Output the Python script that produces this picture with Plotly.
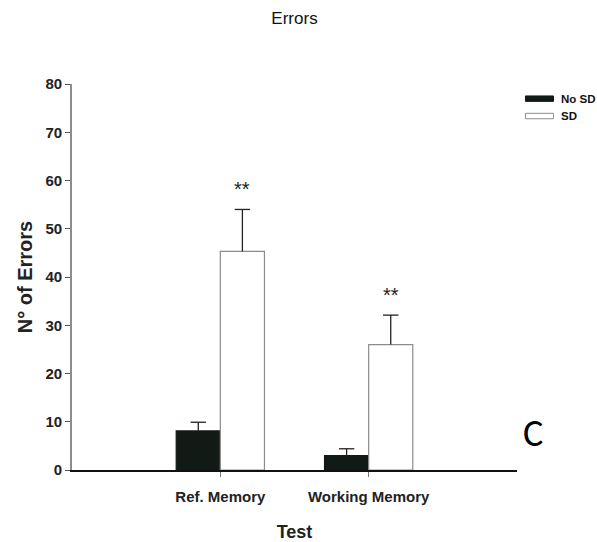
import plotly.graph_objects as go

# Mean number of errors per test, with upper SEM bars
tests = ["Ref. Memory", "Working Memory"]
no_sd_mean = [8.1, 3.0]
no_sd_err = [1.8, 1.4]
sd_mean = [45.3, 26.0]
sd_err = [8.7, 6.1]
sig_marks = ["**", "**"]

series_names = ["No SD", "SD"]
fill_colors = ["#111a14", "#ffffff"]
edge_colors = ["#111a14", "#8c8c8c"]

FONT = "Liberation Sans, Arial, sans-serif"
BARGAP = 0.405
bar_w = (1 - BARGAP) / 2
pos = list(range(len(tests)))

fig = go.Figure()
for k, (name, mean, err, fill, edge) in enumerate(zip(
        series_names, [no_sd_mean, sd_mean], [no_sd_err, sd_err],
        fill_colors, edge_colors)):
    fig.add_trace(go.Bar(
        x=pos, y=mean, name=name,
        marker=dict(color=fill, line=dict(color=edge, width=1.2)),
        showlegend=False,
    ))
    # upper-only error bar: stem from the bar top, single cap at mean + err
    xs = [p + (k - 0.5) * bar_w for p in pos]
    tops = [m + e for m, e in zip(mean, err)]
    fig.add_trace(go.Scatter(
        x=xs, y=tops, mode="markers", showlegend=False, hoverinfo="skip",
        marker=dict(symbol="line-ew", size=11, color="#222",
                    line=dict(color="#222", width=1.3)),
        error_y=dict(type="data", symmetric=False, array=[0] * len(err),
                     arrayminus=err, color="#222", thickness=1.3, width=0),
    ))

# Significance stars above the SD bars
for p, m, e, s in zip(pos, sd_mean, sd_err, sig_marks):
    fig.add_annotation(x=p + bar_w / 2, y=m + e, text=s, showarrow=False,
                       xref="x", yref="y", yanchor="bottom", yshift=7,
                       font=dict(family=FONT, size=20, color="#222"))

# Legend drawn as swatches with labels
legend_y = [0.962, 0.917]
for name, fill, edge, ly in zip(series_names, fill_colors, edge_colors, legend_y):
    fig.add_shape(type="rect", xref="paper", yref="paper",
                  x0=1.019, x1=1.082, y0=ly - 0.007, y1=ly + 0.007,
                  fillcolor=fill, line=dict(color=edge, width=1))
    fig.add_annotation(xref="paper", yref="paper", x=1.094, y=ly,
                       text="<b>%s</b>" % name,
                       showarrow=False, xanchor="left", yanchor="middle",
                       font=dict(family=FONT, size=11.5, color="#111"))

# Panel letter
fig.add_annotation(xref="paper", yref="paper", x=1.035, y=0.095, text="C",
                   showarrow=False, xanchor="center", yanchor="middle",
                   font=dict(family="Carlito, Open Sans, sans-serif", size=38, color="#000"))

fig.update_layout(
    width=597, height=542,
    margin=dict(l=72, r=80, t=84, b=72),
    paper_bgcolor="white", plot_bgcolor="white",
    barmode="group", bargap=BARGAP, bargroupgap=0,
    title=dict(text="Errors", x=0.5, xref="paper", y=1 - 18 / 542, yanchor="middle",
               font=dict(family=FONT, size=17, color="#111")),
    xaxis=dict(
        range=[-1, 2], tickvals=pos, ticktext=["<b>%s</b>" % t for t in tests],
        showline=True, linecolor="#111", linewidth=1.6,
        ticks="outside", ticklen=5, tickcolor="#777", tickwidth=1,
        ticklabelstandoff=7, automargin=False,
        showgrid=False, zeroline=False,
        tickfont=dict(family=FONT, size=15, color="#222"),
        title=dict(text="<b>Test</b>", standoff=22,
                   font=dict(family=FONT, size=18, color="#222")),
    ),
    yaxis=dict(
        range=[0, 80], dtick=10, showline=True, linecolor="#8c8c8c", linewidth=1.6,
        ticks="outside", ticklen=5, tickcolor="#555", tickwidth=1,
        automargin=False,
        showgrid=False, zeroline=False,
        tickprefix="<b>", ticksuffix="</b>",
        tickfont=dict(family=FONT, size=15, color="#222"),
        title=dict(text="<b>N° of Errors</b>", standoff=8,
                   font=dict(family=FONT, size=20, color="#222")),
    ),
)

fig.write_html("out.html")
